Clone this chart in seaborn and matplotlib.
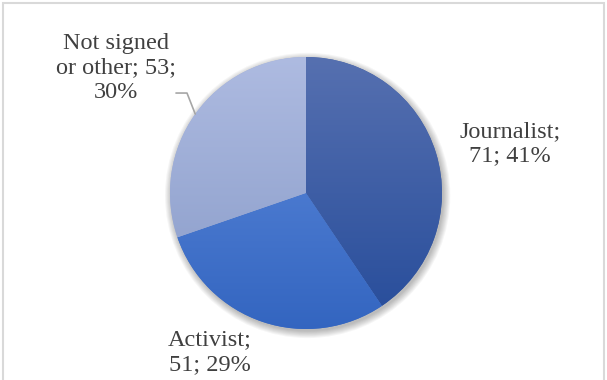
import numpy as np
import matplotlib
matplotlib.use("Agg")
import matplotlib.pyplot as plt
import matplotlib.patches as mpatches
from matplotlib.colors import LinearSegmentedColormap
import seaborn as sns

# ---- data ----
categories = ["Journalist", "Activist", "Not signed\nor other"]
values = [71, 51, 53]
percents = [41, 29, 30]
top_colors = ["#5670b0", "#4a79cf", "#aebbe1"]
bottom_colors = ["#2a4f9c", "#3365c0", "#94a5d0"]

sns.set_theme(style="white")
plt.rcParams["font.family"] = ["Liberation Serif", "DejaVu Serif"]

W, H = 607, 380
fig = plt.figure(figsize=(W / 100, H / 100), dpi=100)
ax = fig.add_axes([0, 0, 1, 1])

# pie center / radius in pixels
cx, cy, R = 306, 193, 136
ax.set_xlim(-cx / R, (W - cx) / R)
ax.set_ylim(-(H - cy) / R, cy / R)

# soft shadow
for i in range(8):
    ax.add_patch(mpatches.Circle((0.012, -0.018), 1.0 + i * 0.007,
                                 facecolor="black", alpha=0.035, lw=0, zorder=0))

mid_colors = [matplotlib.colors.to_hex(
    (np.array(matplotlib.colors.to_rgb(t)) + np.array(matplotlib.colors.to_rgb(b))) / 2)
    for t, b in zip(top_colors, bottom_colors)]

wedges, _ = ax.pie(values, colors=mid_colors, startangle=90, counterclock=False,
                   radius=1.0, center=(0, 0), frame=True,
                   wedgeprops=dict(linewidth=0, zorder=1))

# vertical gradient in each wedge
for w, tc, bc in zip(wedges, top_colors, bottom_colors):
    verts = w.get_path().vertices
    x0, x1 = verts[:, 0].min(), verts[:, 0].max()
    y0, y1 = verts[:, 1].min(), verts[:, 1].max()
    cmap = LinearSegmentedColormap.from_list("g", [bc, tc])
    grad = np.linspace(0, 1, 256).reshape(-1, 1)
    im = ax.imshow(grad, cmap=cmap, origin="lower", extent=[x0, x1, y0, y1],
                   aspect="auto", zorder=2, interpolation="bilinear")
    im.set_clip_path(w)

ax.set_xlim(-cx / R, (W - cx) / R)
ax.set_ylim(-(H - cy) / R, cy / R)
ax.set_aspect("auto")
ax.axis("off")

labels = [f"{categories[0]};\n{values[0]}; {percents[0]}%",
          f"{categories[1]};\n{values[1]}; {percents[1]}%",
          f"{categories[2]}; {values[2]};\n{percents[2]}%"]
label_pos = [(1.5, 0.36), (-0.706, -1.17), (-1.397, 0.919)]
for lab, (lx, ly) in zip(labels, label_pos):
    ax.text(lx, ly, lab, ha="center", va="center", multialignment="center",
            fontsize=17.5, color="#404040", linespacing=1.2, zorder=5)

# leader line for the third slice
w = wedges[2]
mid = np.deg2rad((w.theta1 + w.theta2) / 2)
ex, ey = np.cos(mid), np.sin(mid)
ax.plot([-0.956, -0.875, ex], [0.735, 0.735, ey], color="#a6a6a6", lw=1.2, zorder=4)

# chart border
fig.patches.append(mpatches.Rectangle((3 / W, -0.05), (W - 6) / W, 1 - 3 / H + 0.05,
                                      transform=fig.transFigure, fill=False,
                                      edgecolor="#d9d9d9", lw=1.5))

fig.savefig("out.png", dpi=100)
